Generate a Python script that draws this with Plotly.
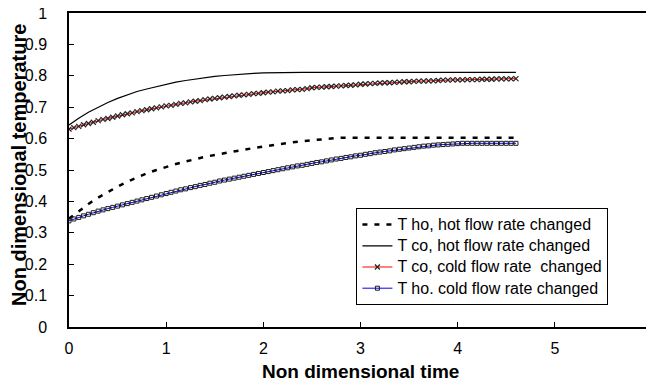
import plotly.graph_objects as go

# time axes
t_coarse = [0.0, 0.1, 0.2, 0.3, 0.4, 0.5, 0.6, 0.7, 0.8, 0.9,
            1.0, 1.1, 1.2, 1.3, 1.4, 1.5, 1.6, 1.7, 1.8, 1.9,
            2.0, 2.1, 2.2, 2.3, 2.4, 2.5, 2.6, 2.7, 2.8, 2.9,
            3.0, 3.1, 3.2, 3.3, 3.4, 3.5, 3.6, 3.7, 3.8, 3.9,
            4.0, 4.1, 4.2, 4.3, 4.4, 4.5, 4.6]

t_fine = [0.0, 0.05, 0.1, 0.15, 0.2, 0.25, 0.3, 0.35, 0.4, 0.45,
          0.5, 0.55, 0.6, 0.65, 0.7, 0.75, 0.8, 0.85, 0.9, 0.95,
          1.0, 1.05, 1.1, 1.15, 1.2, 1.25, 1.3, 1.35, 1.4, 1.45,
          1.5, 1.55, 1.6, 1.65, 1.7, 1.75, 1.8, 1.85, 1.9, 1.95,
          2.0, 2.05, 2.1, 2.15, 2.2, 2.25, 2.3, 2.35, 2.4, 2.45,
          2.5, 2.55, 2.6, 2.65, 2.7, 2.75, 2.8, 2.85, 2.9, 2.95,
          3.0, 3.05, 3.1, 3.15, 3.2, 3.25, 3.3, 3.35, 3.4, 3.45,
          3.5, 3.55, 3.6, 3.65, 3.7, 3.75, 3.8, 3.85, 3.9, 3.95,
          4.0, 4.05, 4.1, 4.15, 4.2, 4.25, 4.3, 4.35, 4.4, 4.45,
          4.5, 4.55, 4.6]

# T ho, hot flow rate changed (dashed black)
tho_hot = [0.345, 0.369, 0.392, 0.412, 0.430, 0.447, 0.463, 0.477, 0.489, 0.500,
           0.510, 0.519, 0.527, 0.535, 0.542, 0.548, 0.554, 0.560, 0.565, 0.570,
           0.575, 0.580, 0.584, 0.588, 0.592, 0.595, 0.598, 0.601, 0.603, 0.603,
           0.603, 0.603, 0.603, 0.603, 0.603, 0.603, 0.603, 0.603, 0.603, 0.603,
           0.603, 0.603, 0.603, 0.603, 0.603, 0.603, 0.603]

# T co, hot flow rate changed (thin solid black)
tco_hot = [0.643, 0.665, 0.684, 0.700, 0.715, 0.728, 0.740, 0.750, 0.758, 0.766,
           0.774, 0.780, 0.785, 0.790, 0.794, 0.798, 0.801, 0.804, 0.806, 0.808,
           0.809, 0.810, 0.811, 0.811, 0.811, 0.811, 0.811, 0.811, 0.811, 0.811,
           0.811, 0.811, 0.811, 0.811, 0.811, 0.811, 0.811, 0.811, 0.811, 0.811,
           0.811, 0.811, 0.811, 0.811, 0.811, 0.811, 0.811]

# T co, cold flow rate changed (red, x markers)
tco_cold = [0.630, 0.635, 0.639, 0.644, 0.648, 0.652, 0.657, 0.661, 0.664, 0.668,
            0.672, 0.676, 0.679, 0.682, 0.686, 0.689, 0.692, 0.695, 0.698, 0.701,
            0.704, 0.706, 0.709, 0.712, 0.714, 0.717, 0.719, 0.721, 0.724, 0.726,
            0.728, 0.730, 0.732, 0.734, 0.736, 0.738, 0.739, 0.741, 0.743, 0.744,
            0.746, 0.748, 0.749, 0.751, 0.752, 0.753, 0.755, 0.756, 0.757, 0.759,
            0.762, 0.763, 0.764, 0.765, 0.766, 0.767, 0.768, 0.769, 0.770, 0.771,
            0.773, 0.774, 0.775, 0.776, 0.777, 0.778, 0.778, 0.779, 0.780, 0.781,
            0.781, 0.782, 0.783, 0.783, 0.784, 0.784, 0.785, 0.786, 0.786, 0.787,
            0.787, 0.787, 0.788, 0.788, 0.788, 0.789, 0.789, 0.789, 0.790, 0.790,
            0.790, 0.790, 0.791]

# T ho. cold flow rate changed (blue, square markers)
tho_cold = [0.338, 0.344, 0.349, 0.354, 0.359, 0.364, 0.369, 0.373, 0.377, 0.381,
            0.385, 0.389, 0.393, 0.397, 0.401, 0.405, 0.409, 0.413, 0.417, 0.421,
            0.425, 0.429, 0.433, 0.437, 0.440, 0.444, 0.447, 0.451, 0.454, 0.458,
            0.461, 0.465, 0.468, 0.471, 0.474, 0.477, 0.480, 0.483, 0.486, 0.489,
            0.492, 0.495, 0.498, 0.501, 0.504, 0.507, 0.510, 0.513, 0.515, 0.518,
            0.521, 0.524, 0.526, 0.529, 0.532, 0.535, 0.537, 0.540, 0.542, 0.545,
            0.547, 0.550, 0.552, 0.555, 0.557, 0.559, 0.561, 0.564, 0.566, 0.568,
            0.570, 0.572, 0.574, 0.576, 0.577, 0.579, 0.580, 0.581, 0.582, 0.583,
            0.584, 0.585, 0.585, 0.585, 0.585, 0.585, 0.585, 0.585, 0.585, 0.585,
            0.585, 0.585, 0.585]

series_names = ["T ho, hot flow rate changed",
                "T co, hot flow rate changed",
                "T co, cold flow rate  changed",
                "T ho. cold flow rate changed"]

x_ticks = [0, 1, 2, 3, 4, 5, 6]
y_ticks = [0, 0.1, 0.2, 0.3, 0.4, 0.5, 0.6, 0.7, 0.8, 0.9, 1]
y_tick_text = ["0", "0.1", "0.2", "0.3", "0.4", "0.5", "0.6", "0.7", "0.8", "0.9", "1"]

x_title = "Non dimensional time"
y_title = "Non dimensional temperature"

FONT = "Liberation Sans, Arial, sans-serif"


def leg(name):
    return '<span style="font-size:16px">' + name + '</span>'


fig = go.Figure()
fig.add_trace(go.Scatter(
    x=t_coarse, y=tho_hot, mode="lines", name=leg(series_names[0]),
    line=dict(color="black", width=2.5, dash="5px,7px")))
fig.add_trace(go.Scatter(
    x=t_coarse, y=tco_hot, mode="lines", name=leg(series_names[1]),
    line=dict(color="black", width=1.2)))
fig.add_trace(go.Scatter(
    x=t_fine, y=tco_cold, mode="lines+markers", name=leg(series_names[2]),
    line=dict(color="#ff0000", width=1),
    marker=dict(symbol="x-thin", size=5, color="#222222",
                line=dict(color="#222222", width=1.2))))
fig.add_trace(go.Scatter(
    x=t_fine, y=tho_cold, mode="lines+markers", name=leg(series_names[3]),
    line=dict(color="#0000ff", width=1),
    marker=dict(symbol="square-open", size=4, color="#1a1a1a",
                line=dict(color="#1a1a1a", width=1))))

# page body has an 8px margin, so the figure is sized to fit the 654x381 window
fig.update_layout(
    width=646, height=373,
    margin=dict(l=61, r=2, t=5, b=54),
    paper_bgcolor="white", plot_bgcolor="white",
    font=dict(family=FONT, color="black", size=16),
    showlegend=True,
    legend=dict(
        x=0.493, y=0.379, xanchor="left", yanchor="top",
        bgcolor="white", bordercolor="black", borderwidth=1,
        font=dict(family=FONT, size=14, color="black"),
        tracegroupgap=0, itemwidth=30,
    ),
    annotations=[
        dict(text="<b>" + x_title + "</b>", xref="paper", yref="paper",
             x=0.5, y=0, xanchor="center", yanchor="middle", yshift=-44,
             showarrow=False, font=dict(family=FONT, size=19, color="black")),
        dict(text="<b>" + y_title + "</b>", xref="paper", yref="paper",
             x=0, y=0.516, xanchor="center", yanchor="middle", xshift=-50,
             textangle=-90, showarrow=False,
             font=dict(family=FONT, size=20, color="black")),
    ],
)
fig.update_xaxes(
    range=[0, 6], tickmode="array", tickvals=x_ticks,
    ticks="inside", ticklen=5, tickwidth=1, tickcolor="black",
    showline=True, linecolor="black", linewidth=1.5, mirror=True,
    showgrid=False, zeroline=False, automargin=False,
    ticklabeloverflow="allow",
    tickfont=dict(family=FONT, size=16), ticklabelstandoff=6,
)
fig.update_yaxes(
    range=[0, 1], tickmode="array", tickvals=y_ticks, ticktext=y_tick_text,
    ticks="inside", ticklen=5, tickwidth=1, tickcolor="black",
    showline=True, linecolor="black", linewidth=1.5, mirror=True,
    showgrid=False, zeroline=False, automargin=False,
    ticklabeloverflow="allow",
    tickfont=dict(family=FONT, size=16), ticklabelstandoff=17,
)

fig.write_html("out.html")
